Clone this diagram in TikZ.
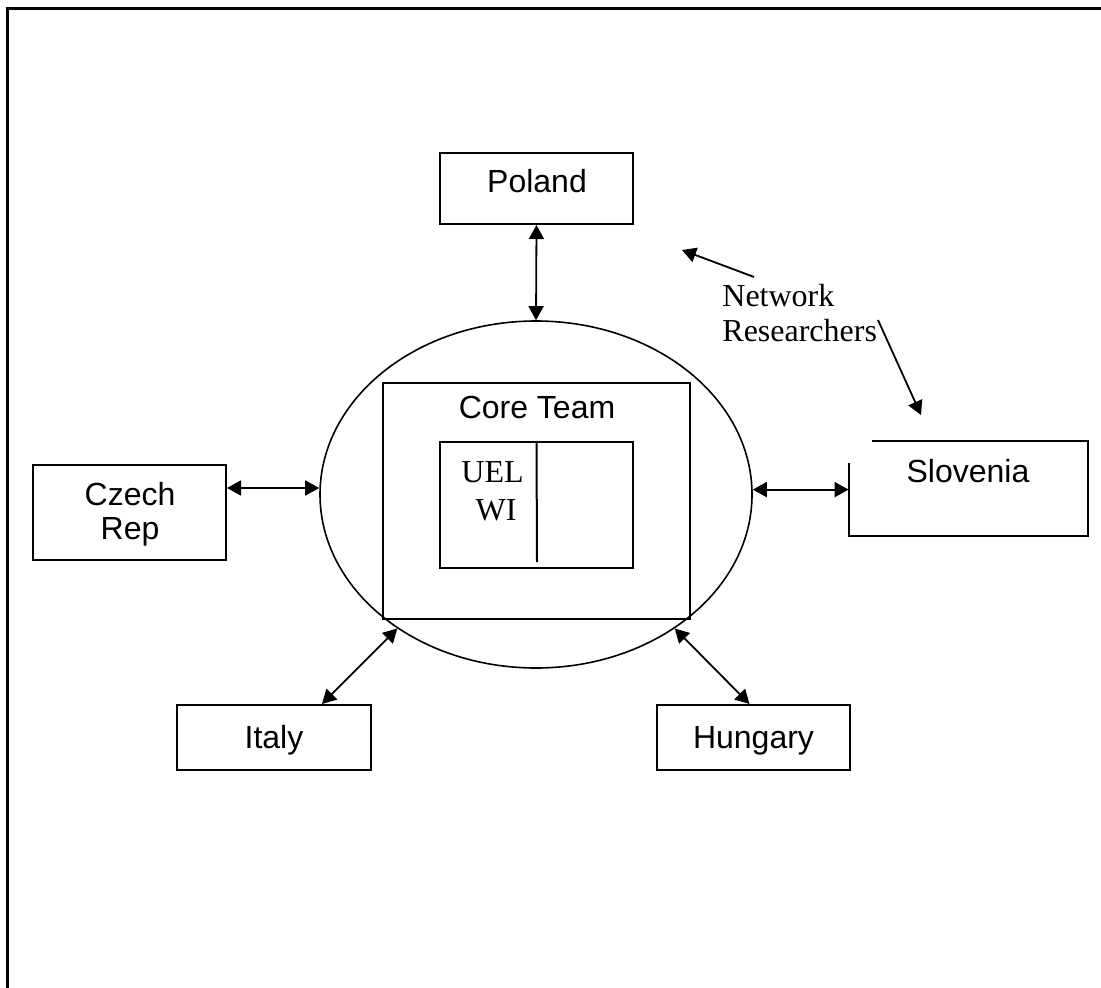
\documentclass[tikz,border=0pt]{standalone}
\usepackage{fontspec}
\setmainfont{Liberation Serif}
\newfontfamily\arialf{Liberation Sans}
\usetikzlibrary{shapes.geometric,arrows.meta}
\begin{document}
\begin{tikzpicture}[x=0.5pt,y=-0.5pt,
  box/.style n args={2}{draw,line width=1pt,minimum width=#1,minimum height=#2,inner sep=0pt},
  ghost/.style n args={2}{minimum width=#1,minimum height=#2,inner sep=0pt},
  sans/.style={font=\arialf\fontsize{16pt}{17.5pt}\selectfont,inner sep=0pt,anchor=base},
  serif/.style={font=\fontsize{16pt}{17.5pt}\selectfont,inner sep=0pt},
  dbl/.style={{Triangle[length=7pt,width=7.5pt]}-{Triangle[length=7pt,width=7.5pt]},line width=0.9pt},
  sgl/.style={-{Triangle[length=7pt,width=7.5pt]},line width=0.9pt}]
\useasboundingbox (0,0) rectangle (1101,988);
% frame
\draw[line width=1.5pt] (7,988) -- (7,9) -- (1101,9);
% central ellipse and core team
\node[draw,ellipse,line width=0.8pt,minimum width=216pt,minimum height=173.5pt,inner sep=0pt] (core) at (536,494.5) {};
\node[box={153.5pt}{118pt}] (team) at (536.5,501) {};
\node[sans] (teamlbl) at (537,419) {Core Team};
\node[box={96.5pt}{63pt}] (inner) at (536.5,505) {};
\coordinate (divend) at (537,562);
\draw[line width=1pt] (inner.north) -- (divend);
\node[serif,anchor=base] (uel) at (492.5,482) {UEL};
\node[serif,anchor=base] (wi) at (496,520) {WI};
% countries
\node[box={96.5pt}{35.5pt}] (poland) at (536.5,188.5) {};
\node[sans] (polandlbl) at (537,193) {Poland};
\node[box={96.5pt}{47.5pt}] (czech) at (129.5,512.5) {};
\node[sans] (czechlbl1) at (130,505) {Czech};
\node[sans] (czechlbl2) at (130,539) {Rep};
\node[ghost={119.5pt}{47.5pt}] (slov) at (968.5,488.5) {};
\draw[line width=1pt] ([xshift=11.5pt]slov.north west) -- (slov.north east) -- (slov.south east) -- (slov.south west) -- ([yshift=-11pt]slov.north west);
\node[sans] (slovlbl) at (968,482) {Slovenia};
\node[box={97pt}{32.5pt}] (italy) at (274,737.5) {};
\node[sans] (italylbl) at (274,748) {Italy};
\node[box={96.5pt}{32.5pt}] (hungary) at (753.5,737.5) {};
\node[sans] (hungarylbl) at (753.5,748) {Hungary};
% connectors
\draw[dbl] (poland.south) -- (core.north);
\coordinate (ca) at ([yshift=-12pt]czech.north east);
\draw[dbl] (ca) -- (ca -| core.west);
\coordinate (sa) at ([yshift=-24.5pt]slov.north west);
\draw[dbl] (sa -| core.east) -- (sa);
\coordinate (ia) at ([xshift=24pt]italy.north);
\draw[dbl] (ia) -- (core.224);
\coordinate (ha) at ([xshift=-2pt]hungary.north);
\draw[dbl] (core.316) -- (ha);
% network researchers
\node[serif,anchor=base west] (nrA) at (722,307) {Network};
\node[serif,anchor=base west] (nrB) at (722,342) {Researchers};
\coordinate (r1s) at (754,277);
\coordinate (r1e) at (682,250);
\draw[sgl] (r1s) -- (r1e);
\coordinate (r2s) at (878,320);
\coordinate (r2e) at (921,415);
\draw[sgl] (r2s) -- (r2e);
\end{tikzpicture}
\end{document}
